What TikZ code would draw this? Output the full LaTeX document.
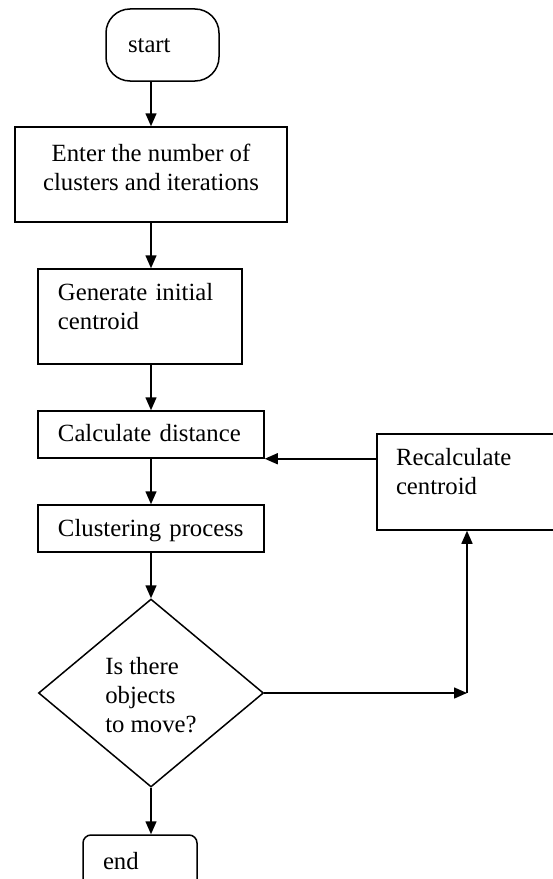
\documentclass[tikz,border=0pt]{standalone}
\usepackage{fontspec}
\setmainfont{Liberation Serif}
\usetikzlibrary{arrows.meta,shapes.geometric}
\begin{document}
\begin{tikzpicture}[x=1bp,y=-1bp,
  every node/.style={font=\fontsize{24.75bp}{29bp}\selectfont, line width=1.5bp},
  box/.style={draw, rectangle, inner sep=0pt},
  arr/.style={line width=1.5bp, -{Triangle[length=13bp,width=11bp]}}]
\useasboundingbox (0,0) rectangle (553,879);
\clip (0,0) rectangle (553,879);
\node[box, rounded corners=24bp, minimum width=113bp, minimum height=72bp, text width=69bp, inner xsep=22bp, align=left, text height=18bp, text depth=3bp] (start) at (162.5,45) {start};
\node[box, minimum width=272bp, minimum height=95bp, align=center, text height=33bp, text depth=2bp] (enter) at (151,174.5) {Enter the number of\\clusters and iterations};
\node[box, minimum width=204bp, minimum height=95bp, text width=164bp, inner xsep=20bp, align=left, text height=16bp, text depth=48bp] (gen) at (140,316.5) {Generate initial\\centroid};
\node[box, minimum width=226bp, minimum height=47bp, text width=186bp, inner xsep=20bp, align=left, text height=17bp, text depth=3bp] (calc) at (151,434.5) {Calculate distance};
\node[box, minimum width=226bp, minimum height=47bp, text width=186bp, inner xsep=20bp, align=left, text height=18bp, text depth=2bp] (clus) at (151,528.5) {Clustering process};
\node[draw, diamond, minimum width=225bp, minimum height=188bp, inner sep=0pt, align=left, text height=80bp, text depth=2bp] (dia) at (151,693) {Is there\\objects\\to move?};
\node[box, minimum width=223bp, minimum height=96bp, text width=185bp, inner xsep=19bp, align=left, text height=16bp, text depth=49bp] (recalc) at (488.5,482) {Recalculate\\centroid};
\node[box, rounded corners=8bp, minimum width=114bp, minimum height=65bp, text width=74bp, inner xsep=20bp, align=left, text height=16bp, text depth=12bp] (end) at (140,867.5) {end};
\coordinate (turn) at (467,693);
\draw[arr] (enter.north |- start.south) -- (enter.north);
\draw[arr] (enter.south) -- (enter.south |- gen.north);
\draw[arr] (calc.north |- gen.south) -- (calc.north);
\draw[arr] (calc.south) -- (clus.north);
\draw[arr] (clus.south) -- (dia.north);
\draw[arr] (dia.south) -- (dia.south |- end.north);
\draw[arr] (dia.east) -- (turn);
\draw[arr] (turn) -- (turn |- recalc.south);
\draw[arr] (recalc.west |- calc.south east) -- (calc.south east);
\end{tikzpicture}
\end{document}
